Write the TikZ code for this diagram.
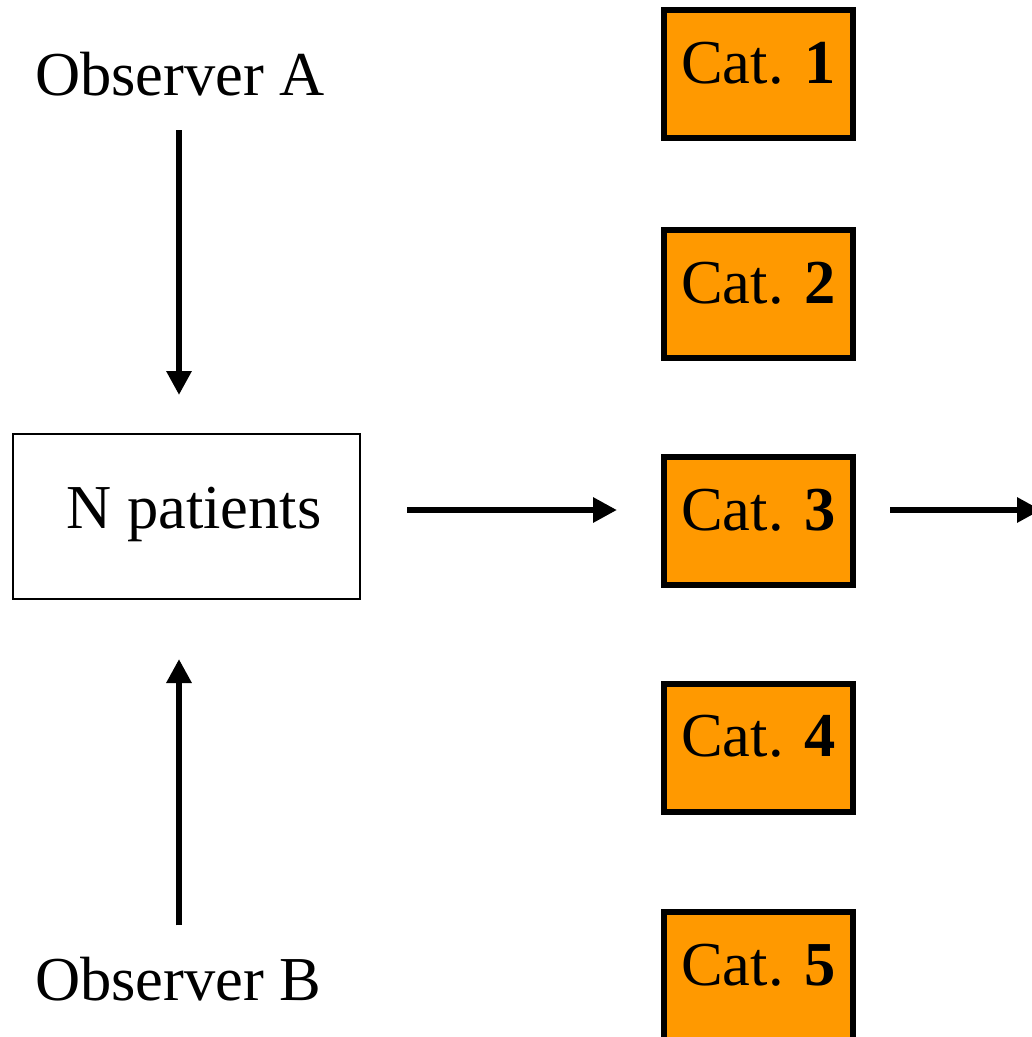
\documentclass[tikz,border=0pt]{standalone}
\usepackage{fontspec}
\setmainfont{Liberation Serif}
\usepackage{tikz}
\usetikzlibrary{arrows.meta, positioning}
\definecolor{catorange}{RGB}{255,153,0}

\begin{document}
\begin{tikzpicture}[
    x=1pt, y=-1pt,
    bigfont/.style={font=\fontsize{62.5}{75}\selectfont},
    label/.style={bigfont, inner sep=0pt, text depth=0pt},
    patbox/.style={rectangle, draw=black, line width=2pt, fill=white,
                minimum width=347pt, minimum height=165pt, bigfont,
                text height=42pt, text depth=19pt},
    catbox/.style={rectangle, draw=black, line width=6pt, fill=catorange,
                minimum width=189pt, minimum height=128pt, bigfont,
                text height=42pt, text depth=24pt, inner sep=0pt},
    arrow/.style={-{Triangle[length=24pt, width=24pt]}, line width=6.5pt, color=black}
]
\useasboundingbox (0,0) rectangle (1032,1037);

% --- Observers ---
\node[label, anchor=base] (obsA) at (180,95) {Observer A};
\node[label, anchor=base] (obsB) at (178.5,1000) {Observer B};

% --- Patients ---
\node[patbox] (pat) at (186.5,516.5) {\hspace*{15pt}N patients};

% --- Categories ---
\node[catbox] (cat1) at (758.5,74) {Cat. \textbf{1}};
\node[catbox] (cat2) at (758.5,294) {Cat. \textbf{2}};
\node[catbox] (cat3) at (758.5,521) {Cat. \textbf{3}};
\node[catbox] (cat4) at (758.5,747.5) {Cat. \textbf{4}};
\node[catbox] (cat5) at (758.5,976) {Cat. \textbf{5}};

% --- Arrows ---
\coordinate (row) at (0,510);
\coordinate (out) at (1041,510);
\draw[arrow, shorten <=35pt, shorten >=38pt] (obsA.south -| 179,0) -- (pat.north -| 179,0);
\draw[arrow, shorten <=31pt, shorten >=59pt] (obsB.north -| 179,0) -- (pat.south -| 179,0);
\draw[arrow, shorten <=46pt, shorten >=44pt] (pat.east |- row) -- (cat3.west |- row);
\draw[arrow, shorten <=34pt] (cat3.east |- row) -- (out);

\end{tikzpicture}
\end{document}
